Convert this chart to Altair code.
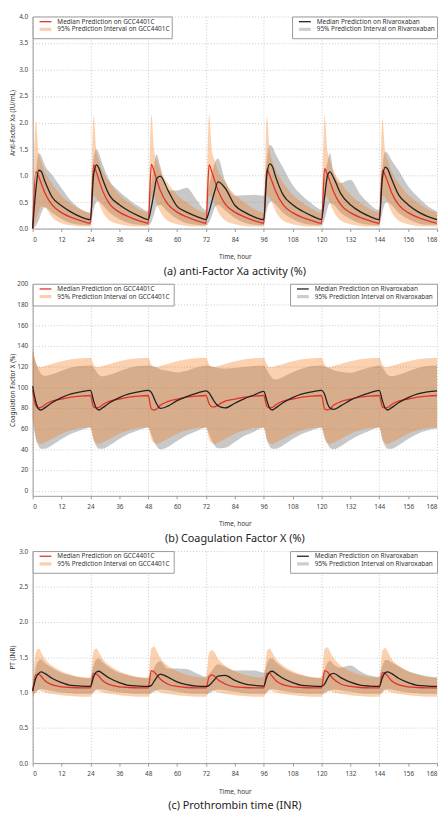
import altair as alt
import pandas as pd

# ---------------- data ----------------
hours = [0, 1.3, 2.5, 3.5, 5, 8, 12, 16, 20,
         24, 25.3, 26.5, 27.5, 29, 32, 36, 40, 44,
         48, 49.3, 50.5, 51.5, 53, 56, 60, 64, 68,
         72, 73.3, 74.5, 75.5, 77, 80, 84, 88, 92,
         96, 97.3, 98.5, 99.5, 101, 104, 108, 112, 116,
         120, 121.3, 122.5, 123.5, 125, 128, 132, 136, 140,
         144, 145.3, 146.5, 147.5, 149, 152, 156, 160, 164,
         168]

x_ticks = [0, 12, 24, 36, 48, 60, 72, 84, 96, 108, 120, 132, 144, 156, 168]

# (a) anti-Factor Xa activity
a_gcc_med = [
    0.00, 1.07, 0.98, 0.86, 0.68, 0.45, 0.30, 0.21, 0.15,
    0.10, 1.20, 1.06, 0.92, 0.72, 0.46, 0.31, 0.22, 0.15,
    0.10, 1.21, 1.07, 0.93, 0.72, 0.47, 0.31, 0.22, 0.15,
    0.10, 1.20, 1.06, 0.92, 0.72, 0.46, 0.31, 0.22, 0.15,
    0.10, 1.12, 1.00, 0.88, 0.70, 0.45, 0.30, 0.21, 0.15,
    0.10, 1.13, 1.01, 0.89, 0.70, 0.45, 0.30, 0.21, 0.15,
    0.10, 1.10, 1.00, 0.88, 0.69, 0.45, 0.30, 0.21, 0.15,
    0.10]
a_gcc_lo = [
    0.00, 0.15, 0.32, 0.42, 0.40, 0.22, 0.10, 0.06, 0.04,
    0.04, 0.62, 0.58, 0.48, 0.32, 0.15, 0.08, 0.05, 0.04,
    0.04, 0.62, 0.58, 0.48, 0.32, 0.15, 0.08, 0.05, 0.04,
    0.04, 0.62, 0.58, 0.48, 0.32, 0.15, 0.08, 0.05, 0.04,
    0.04, 0.62, 0.58, 0.48, 0.32, 0.15, 0.08, 0.05, 0.04,
    0.04, 0.62, 0.58, 0.48, 0.32, 0.15, 0.08, 0.05, 0.04,
    0.04, 0.62, 0.58, 0.48, 0.32, 0.15, 0.08, 0.05, 0.04,
    0.04]
a_gcc_hi = [
    0.00, 2.03, 1.42, 1.26, 1.08, 0.85, 0.62, 0.47, 0.36,
    0.30, 2.13, 1.45, 1.30, 1.10, 0.87, 0.64, 0.49, 0.37,
    0.30, 2.15, 1.46, 1.30, 1.10, 0.87, 0.64, 0.49, 0.37,
    0.30, 2.15, 1.46, 1.30, 1.10, 0.87, 0.64, 0.49, 0.37,
    0.30, 2.12, 1.45, 1.29, 1.10, 0.87, 0.64, 0.49, 0.37,
    0.30, 2.13, 1.45, 1.30, 1.10, 0.87, 0.64, 0.49, 0.37,
    0.30, 2.07, 1.43, 1.28, 1.09, 0.86, 0.64, 0.49, 0.37,
    0.30]
a_riva_med = [
    0.00, 0.72, 1.10, 1.08, 0.90, 0.60, 0.43, 0.31, 0.22,
    0.17, 1.00, 1.20, 1.14, 0.94, 0.62, 0.45, 0.33, 0.24,
    0.17, 0.40, 0.70, 0.94, 0.99, 0.74, 0.42, 0.31, 0.23,
    0.17, 0.32, 0.52, 0.68, 0.88, 0.76, 0.44, 0.31, 0.22,
    0.17, 1.02, 1.22, 1.18, 0.97, 0.64, 0.45, 0.33, 0.24,
    0.17, 0.60, 1.00, 1.07, 0.96, 0.66, 0.45, 0.32, 0.23,
    0.17, 0.95, 1.16, 1.12, 0.95, 0.64, 0.45, 0.32, 0.23,
    0.17]
a_riva_lo = [
    0.00, 0.05, 0.15, 0.28, 0.40, 0.30, 0.18, 0.10, 0.07,
    0.06, 0.35, 0.50, 0.52, 0.45, 0.30, 0.18, 0.10, 0.07,
    0.06, 0.12, 0.28, 0.42, 0.45, 0.32, 0.18, 0.10, 0.07,
    0.06, 0.12, 0.25, 0.38, 0.45, 0.34, 0.20, 0.11, 0.07,
    0.06, 0.35, 0.50, 0.52, 0.45, 0.30, 0.18, 0.10, 0.07,
    0.06, 0.18, 0.38, 0.48, 0.45, 0.30, 0.18, 0.10, 0.07,
    0.06, 0.30, 0.48, 0.50, 0.45, 0.30, 0.18, 0.10, 0.07,
    0.07]
a_riva_hi = [
    0.00, 1.00, 1.42, 1.38, 1.20, 1.02, 0.76, 0.52, 0.37,
    0.30, 1.30, 1.50, 1.42, 1.22, 0.90, 0.70, 0.55, 0.42,
    0.33, 0.85, 1.20, 1.40, 1.18, 0.72, 0.72, 0.77, 0.55,
    0.35, 0.80, 1.05, 1.22, 1.32, 0.90, 0.62, 0.63, 0.64,
    0.62, 1.30, 1.58, 1.55, 1.40, 1.15, 0.82, 0.62, 0.47,
    0.36, 1.00, 1.25, 1.42, 1.05, 0.86, 0.92, 0.65, 0.46,
    0.35, 1.15, 1.45, 1.42, 1.30, 1.10, 0.80, 0.60, 0.43,
    0.32]
a_yticks = [0.0, 0.5, 1.0, 1.5, 2.0, 2.5, 3.0, 3.5, 4.0]

# (b) Coagulation Factor X
b_gcc_med = [
    97, 82, 80, 80.5, 83, 86.5, 88.5, 90.5, 91.5,
    92, 81, 80, 80.5, 83, 86.5, 88.5, 90.5, 91.5,
    92, 79, 78, 79, 82.5, 86, 88.5, 90.5, 91.5,
    92, 84, 81, 81, 83, 86.5, 88.5, 90.5, 91.5,
    92, 81.5, 80, 80.5, 83, 86.5, 88.5, 90.5, 91.5,
    92, 79, 78, 79, 82.5, 86, 88.5, 90.5, 91.5,
    92, 81, 80, 80.5, 83, 86.5, 88.5, 90.5, 91.5,
    92]
b_gcc_lo = [
    70, 52, 46, 45, 46.5, 50, 55, 58.5, 60.5,
    61, 50, 46, 45, 46.5, 50, 55, 58.5, 60.5,
    61, 50, 46, 45, 46.5, 50, 55, 58.5, 60.5,
    61, 50, 46, 45, 46.5, 50, 55, 58.5, 60.5,
    61, 50, 46, 45, 46.5, 50, 55, 58.5, 60.5,
    61, 50, 46, 45, 46.5, 50, 55, 58.5, 60.5,
    61, 50, 46, 45, 46.5, 50, 55, 58.5, 60.5,
    61]
b_gcc_hi = [
    137, 124, 120, 119.5, 120.5, 122.5, 125, 127, 128,
    128.5, 122, 119.5, 119.5, 120.5, 122.5, 125, 127, 128,
    128.5, 122, 119.5, 119.5, 120.5, 122.5, 125, 127, 128,
    128.5, 122, 119.5, 119.5, 120.5, 122.5, 125, 127, 128,
    128.5, 122, 119.5, 119.5, 120.5, 122.5, 125, 127, 128,
    128.5, 122, 119.5, 119.5, 120.5, 122.5, 125, 127, 128,
    128.5, 122, 119.5, 119.5, 120.5, 122.5, 125, 127, 128,
    128.5]
b_riva_med = [
    101, 86, 79, 78, 80, 85, 90, 93.5, 95.5,
    97, 87, 79.5, 78, 80, 85, 90, 93.5, 95.5,
    97, 95, 89, 84, 79.5, 81.5, 87, 91, 94,
    96.5, 94.5, 90, 86, 82, 80, 84.5, 89, 92.5,
    96, 87, 79.5, 78, 80, 85, 90, 93.5, 95.5,
    97, 93, 84, 80, 78.5, 82, 87.5, 91.5, 94.5,
    97, 87, 79.5, 78, 80, 85, 90, 93.5, 95.5,
    96.5]
b_riva_lo = [
    70, 50, 43, 40.5, 40.5, 44, 50, 55, 58.5,
    61, 49, 43, 40.5, 40.5, 44, 50, 55, 58.5,
    61, 54, 47, 43, 40, 42, 48, 53.5, 57.5,
    61, 55, 48, 44, 41, 41.5, 47, 53, 57,
    61, 49, 43, 40.5, 40.5, 44, 50, 55, 58.5,
    61, 52, 45, 41.5, 40, 43, 49, 54, 58,
    61, 49, 43, 40.5, 40.5, 44, 50, 55, 58.5,
    60]
b_riva_hi = [
    135, 124, 117, 113, 111, 112.5, 116, 119, 120.5,
    121, 119, 115, 112, 110.5, 112, 115.5, 118.5, 120.5,
    121, 120.5, 120, 119, 117.5, 116, 114.5, 116, 119,
    121, 120.5, 120, 119.5, 118.5, 118, 118.5, 119.5, 120.5,
    121, 117, 112, 109, 107.5, 110, 114.5, 118, 120.5,
    121, 120, 119, 118, 116.5, 115, 114, 116.5, 119,
    121, 119, 115, 112, 110.5, 112, 115.5, 118.5, 120.5,
    121]
b_yticks = [0, 20, 40, 60, 80, 100, 120, 140, 160, 180, 200]

# (c) Prothrombin time (INR)
c_gcc_med = [
    1.02, 1.25, 1.26, 1.23, 1.17, 1.11, 1.08, 1.07, 1.065,
    1.065, 1.27, 1.26, 1.23, 1.17, 1.11, 1.08, 1.07, 1.065,
    1.065, 1.31, 1.29, 1.25, 1.19, 1.12, 1.085, 1.07, 1.065,
    1.065, 1.22, 1.25, 1.23, 1.18, 1.12, 1.08, 1.07, 1.065,
    1.065, 1.27, 1.27, 1.23, 1.17, 1.11, 1.08, 1.07, 1.065,
    1.065, 1.31, 1.29, 1.25, 1.19, 1.12, 1.085, 1.07, 1.065,
    1.065, 1.28, 1.27, 1.23, 1.17, 1.11, 1.08, 1.07, 1.065,
    1.065]
c_gcc_lo = [
    0.93, 1.00, 1.03, 1.02, 1.00, 0.98, 0.96, 0.95, 0.94,
    0.94, 1.01, 1.03, 1.02, 1.00, 0.98, 0.96, 0.95, 0.94,
    0.94, 1.01, 1.03, 1.02, 1.00, 0.98, 0.96, 0.95, 0.94,
    0.94, 1.01, 1.03, 1.02, 1.00, 0.98, 0.96, 0.95, 0.94,
    0.94, 1.01, 1.03, 1.02, 1.00, 0.98, 0.96, 0.95, 0.94,
    0.94, 1.01, 1.03, 1.02, 1.00, 0.98, 0.96, 0.95, 0.94,
    0.94, 1.01, 1.03, 1.02, 1.00, 0.98, 0.96, 0.95, 0.94,
    0.94]
c_gcc_hi = [
    1.05, 1.56, 1.62, 1.57, 1.48, 1.38, 1.30, 1.25, 1.22,
    1.21, 1.58, 1.62, 1.57, 1.48, 1.38, 1.30, 1.25, 1.22,
    1.21, 1.62, 1.65, 1.59, 1.49, 1.38, 1.30, 1.25, 1.22,
    1.21, 1.55, 1.60, 1.57, 1.48, 1.38, 1.30, 1.25, 1.22,
    1.21, 1.58, 1.62, 1.57, 1.48, 1.38, 1.30, 1.25, 1.22,
    1.21, 1.61, 1.64, 1.58, 1.49, 1.38, 1.30, 1.25, 1.22,
    1.21, 1.59, 1.63, 1.58, 1.48, 1.38, 1.30, 1.25, 1.22,
    1.21]
c_riva_med = [
    1.02, 1.20, 1.27, 1.29, 1.27, 1.20, 1.14, 1.10, 1.09,
    1.085, 1.22, 1.29, 1.30, 1.27, 1.20, 1.14, 1.10, 1.09,
    1.085, 1.10, 1.16, 1.21, 1.26, 1.22, 1.15, 1.11, 1.09,
    1.085, 1.10, 1.14, 1.18, 1.23, 1.24, 1.17, 1.12, 1.10,
    1.09, 1.22, 1.29, 1.30, 1.27, 1.20, 1.14, 1.10, 1.09,
    1.085, 1.12, 1.20, 1.25, 1.27, 1.21, 1.145, 1.105, 1.09,
    1.085, 1.21, 1.28, 1.29, 1.27, 1.20, 1.14, 1.10, 1.09,
    1.085]
c_riva_lo = [
    0.98, 1.00, 1.04, 1.05, 1.04, 1.02, 1.00, 0.99, 0.98,
    0.98, 1.00, 1.04, 1.05, 1.04, 1.02, 1.00, 0.99, 0.98,
    0.98, 0.99, 1.01, 1.03, 1.04, 1.03, 1.01, 0.99, 0.98,
    0.98, 0.99, 1.01, 1.03, 1.04, 1.03, 1.01, 0.99, 0.98,
    0.98, 1.00, 1.04, 1.05, 1.04, 1.02, 1.00, 0.99, 0.98,
    0.98, 0.99, 1.01, 1.03, 1.04, 1.03, 1.01, 0.99, 0.98,
    0.98, 1.00, 1.04, 1.05, 1.04, 1.02, 1.00, 0.99, 0.98,
    0.98]
c_riva_hi = [
    1.02, 1.35, 1.45, 1.47, 1.42, 1.35, 1.28, 1.24, 1.21,
    1.20, 1.38, 1.47, 1.48, 1.43, 1.35, 1.28, 1.24, 1.21,
    1.20, 1.27, 1.35, 1.41, 1.44, 1.34, 1.34, 1.33, 1.27,
    1.22, 1.26, 1.31, 1.36, 1.40, 1.36, 1.31, 1.31, 1.31,
    1.28, 1.40, 1.48, 1.48, 1.43, 1.35, 1.28, 1.24, 1.21,
    1.20, 1.32, 1.42, 1.45, 1.40, 1.35, 1.38, 1.30, 1.24,
    1.22, 1.38, 1.46, 1.46, 1.43, 1.37, 1.30, 1.26, 1.23,
    1.21]
c_yticks = [0.0, 0.5, 1.0, 1.5, 2.0, 2.5, 3.0]

gcc_names_a = ["Median Prediction on GCC4401C", "95% Prediction Interval on GCC4401C"]
riva_names_a = ["Median Prediction on Rivaroxaban", "95% Prediction Interval on Rivaroxaban"]
gcc_names_bc = ["Median Prediction on GCC4401C", "95% Prediction Interval  on GCC4401C"]
riva_names_bc = ["Median Prediction on Rivaroxaban", "95% Prediction Interval  on Rivaroxaban"]

captions = ["(a) anti-Factor Xa activity (%)", "(b) Coagulation Factor X (%)", "(c) Prothrombin time (INR)"]
y_titles = ["Anti-Factor Xa (IU/mL)", "Coagulation Factor X (%)", "PT (INR)"]

# ---------------- style ----------------
RED = "#e2322b"
BLACK = "#222222"
ORANGE = "#f47a1e"
GRAY = "#808080"
PEACH_KEY = "#fbcfae"
GRAY_KEY = "#cccccc"
FONT = "Noto Sans"
W, H = 410, 215


def make_panel(med_g, lo_g, hi_g, med_r, lo_r, hi_r, ydomain, yticks, yfmt,
               ytitle, caption, gnames, rnames):
    df = pd.DataFrame({
        "hours": hours,
        "gcc_med": med_g, "gcc_lo": lo_g, "gcc_hi": hi_g,
        "riva_med": med_r, "riva_lo": lo_r, "riva_hi": hi_r,
    })
    df["gkey"] = gnames[0]
    df["rkey"] = rnames[0]
    base = alt.Chart(df)
    x = alt.X("hours:Q",
              scale=alt.Scale(domain=[0, 168], nice=False, zero=False),
              axis=alt.Axis(values=x_ticks, title="Time, hour", tickSize=3,
                            labelPadding=5, titlePadding=11,
                            gridOpacity={"condition": {"test": "datum.value % 24 === 0", "value": 1},
                                         "value": 0}))
    ysc = alt.Scale(domain=ydomain, nice=False, zero=False)
    yax = alt.Axis(values=yticks, format=yfmt, title=ytitle, ticks=False,
                   labelPadding=5, titlePadding=2, minExtent=15, maxExtent=15)

    def Y(f):
        return alt.Y(f + ":Q", scale=ysc, axis=yax)

    def legend(orient):
        return alt.Legend(orient=orient, title=None, offset=0)

    riva_band = base.mark_area(color=GRAY, opacity=0.43, interpolate="monotone").encode(
        x=x, y=Y("riva_lo"), y2="riva_hi:Q")
    gcc_band = base.mark_area(color=ORANGE, opacity=0.35, interpolate="monotone").encode(
        x=x, y=Y("gcc_lo"), y2="gcc_hi:Q")
    gcc_line = base.mark_line(interpolate="monotone").encode(
        x=x, y=Y("gcc_med"),
        stroke=alt.Stroke("gkey:O", scale=alt.Scale(domain=gnames, range=[RED, PEACH_KEY]),
                          legend=legend("top-left")),
        strokeWidth=alt.StrokeWidth("gkey:O", scale=alt.Scale(domain=gnames, range=[1.3, 3.2]),
                                    legend=legend("top-left")))
    riva_line = base.mark_line(interpolate="monotone").encode(
        x=x, y=Y("riva_med"),
        stroke=alt.Stroke("rkey:O", scale=alt.Scale(domain=rnames, range=[BLACK, GRAY_KEY]),
                          legend=legend("top-right")),
        strokeWidth=alt.StrokeWidth("rkey:O", scale=alt.Scale(domain=rnames, range=[1.3, 3.2]),
                                    legend=legend("top-right")))
    return alt.layer(riva_band, gcc_band, gcc_line, riva_line).resolve_scale(
        stroke="independent", strokeWidth="independent"
    ).properties(
        width=W, height=H,
        title=alt.TitleParams(caption, orient="bottom", fontSize=11, font=FONT,
                              fontWeight="normal", color="#222", offset=6))


pa = make_panel(a_gcc_med, a_gcc_lo, a_gcc_hi, a_riva_med, a_riva_lo, a_riva_hi,
                [0, 4], a_yticks, ".1f", y_titles[0], captions[0], gcc_names_a, riva_names_a)
pb = make_panel(b_gcc_med, b_gcc_lo, b_gcc_hi, b_riva_med, b_riva_lo, b_riva_hi,
                [-5, 200], b_yticks, "d", y_titles[1], captions[1], gcc_names_bc, riva_names_bc)
pc = make_panel(c_gcc_med, c_gcc_lo, c_gcc_hi, c_riva_med, c_riva_lo, c_riva_hi,
                [0, 3], c_yticks, ".1f", y_titles[2], captions[2], gcc_names_bc, riva_names_bc)

chart = alt.vconcat(pa, pb, pc, spacing=4).properties(
    padding={"left": 2, "top": 0, "right": 0, "bottom": 0}
).configure_view(stroke=None).configure_axis(
    labelFont=FONT, labelFontSize=6.5, labelColor="#444",
    titleFont=FONT, titleFontSize=6.5, titleFontWeight="normal", titleColor="#333",
    domainColor="#999", tickColor="#999", gridColor="#bbb", gridDash=[1, 2], gridWidth=0.8
).configure_legend(
    symbolType="M-3,0H3", symbolSize=16, symbolOffset=7, labelOffset=8,
    labelFont=FONT, labelFontSize=6.5,
    labelColor="#333", strokeColor="#999", fillColor="white", padding=2,
    rowPadding=-4, labelLimit=0, symbolOpacity=1
)

chart.save("out.html", embed_options={"renderer": "svg", "actions": False})
